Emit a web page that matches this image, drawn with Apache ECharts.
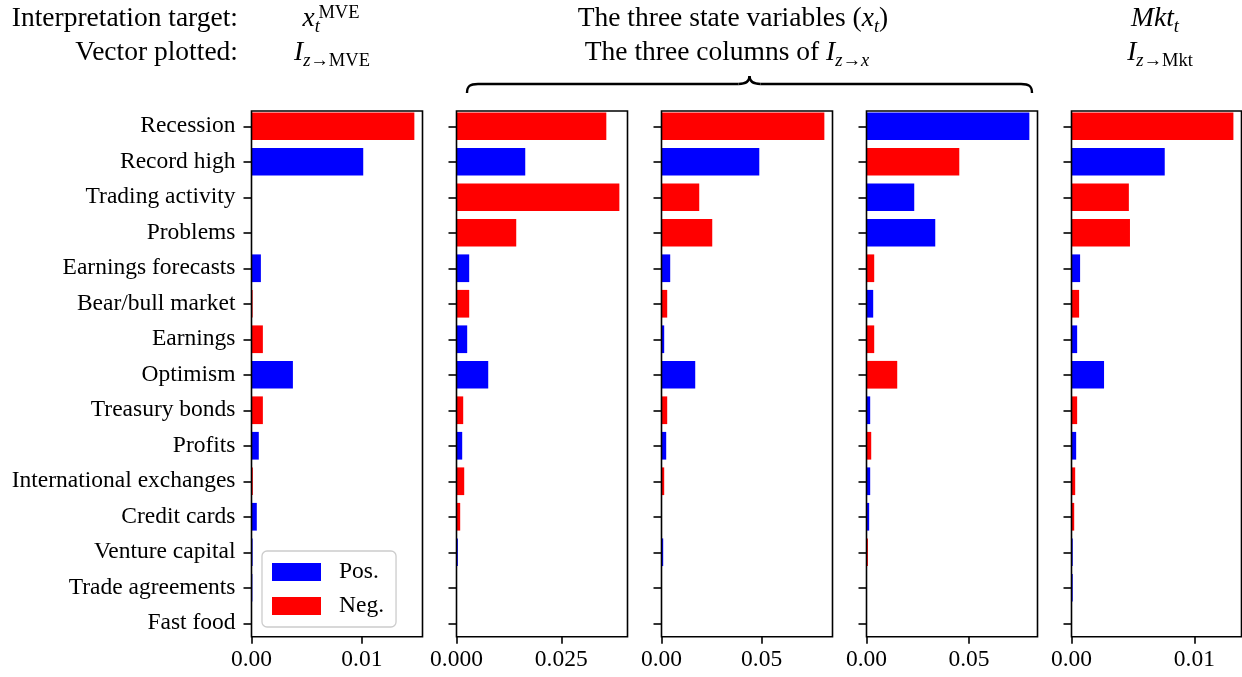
<!DOCTYPE html>
<html>
<head>
<meta charset="utf-8">
<script src="https://cdn.jsdelivr.net/npm/echarts@6/dist/echarts.min.js"></script>
<style>
  html, body { margin: 0; padding: 0; background: #fff; }
  #chart { width: 1242px; height: 677px; }
</style>
</head>
<body>
<div id="chart"></div>
<script>
// Topic categories (top to bottom)
const categories = [
  'Recession', 'Record high', 'Trading activity', 'Problems', 'Earnings forecasts',
  'Bear/bull market', 'Earnings', 'Optimism', 'Treasury bonds', 'Profits',
  'International exchanges', 'Credit cards', 'Venture capital', 'Trade agreements', 'Fast food'
];

// Signed loadings: positive drawn blue, negative drawn red (bar length = magnitude)
const vecMVE = [-0.01475, 0.01012, 0, 0, 0.00085, -0.0001, -0.00103, 0.00375, -0.00103, 0.00066, -0.00012, 0.00048, 0.0001, 0.00008, 0];
const colX1  = [-0.03574, 0.0164, -0.03885, -0.01425, 0.00303, -0.00303, 0.00255, 0.00757, -0.0016, 0.00136, -0.00184, -0.00088, 0.00033, 0, 0];
const colX2  = [-0.08135, 0.04885, -0.01885, -0.02535, 0.00435, -0.00285, 0.00135, 0.01685, -0.00285, 0.00235, -0.00135, 0, 0.00085, 0, 0];
const colX3  = [0.07944, -0.04526, 0.02329, 0.03354, -0.00376, 0.00327, -0.00376, -0.01499, 0.0018, -0.0023, 0.0018, 0.0013, -0.0007, 0, 0];
const vecMkt = [-0.01318, 0.00759, -0.00467, -0.00476, 0.0007, -0.00062, 0.00046, 0.00265, -0.00046, 0.00038, -0.0003, -0.00022, 0.0001, 0.0001, 0];

// Axis ticks per panel
const tickSteps    = [0.01, 0.025, 0.05, 0.05, 0.01];
const tickDecimals = [2, 3, 2, 2, 2];

const panels = [vecMVE, colX1, colX2, colX3, vecMkt];

const FONT = '"Liberation Serif", "Times New Roman", serif';
const POS_COLOR = '#0000ff';
const NEG_COLOR = '#ff0000';
const LW = 1.6;

// Panel layout: the category bands extend a little past the visible frame
const gridLeft = [251.5, 456.5, 661.5, 866.5, 1071.5];
const gridWidth = [171, 171, 171, 171, 170];
const bandTop = 108.5, bandHeight = 532.5;        // 15 rows of 35.5 px
const frameTop = 111, frameBottom = 636.7;
const xAxisOffset = frameBottom - (bandTop + bandHeight);

const grids = [], xAxes = [], yAxes = [], series = [];
const frames = [];

panels.forEach((vals, i) => {
  const maxAbs = Math.max(...vals.map(v => Math.abs(v)));
  grids.push({
    left: gridLeft[i], top: bandTop, width: gridWidth[i], height: bandHeight, show: false
  });
  xAxes.push({
    type: 'value', gridIndex: i, min: 0, max: maxAbs * 1.05, offset: xAxisOffset,
    splitLine: { show: false },
    axisLine: { show: false },
    axisTick: { show: true, length: 7, lineStyle: { color: '#000', width: LW },
                customValues: [0, tickSteps[i]] },
    axisLabel: { show: true, margin: 11, color: '#000', fontFamily: FONT, fontSize: 23.5,
                 customValues: [0, tickSteps[i]],
                 formatter: v => Number(v).toFixed(tickDecimals[i]) },
    z: 3
  });
  yAxes.push({
    type: 'category', gridIndex: i, data: categories, inverse: true,
    axisLine: { show: false },
    axisTick: { show: true, alignWithLabel: true, length: 8, lineStyle: { color: '#000', width: LW } },
    axisLabel: { show: i === 0, margin: 16, color: '#000', fontFamily: FONT, fontSize: 23.5,
                 padding: [3, 0, 0, 0] },
    splitLine: { show: false },
    z: 3
  });
  series.push({
    name: 'Pos.', type: 'bar', xAxisIndex: i, yAxisIndex: i,
    data: vals.map(v => (v > 0 ? v : '-')),
    itemStyle: { color: POS_COLOR }, barWidth: '78%', barGap: '-100%', z: 2
  });
  series.push({
    name: 'Neg.', type: 'bar', xAxisIndex: i, yAxisIndex: i,
    data: vals.map(v => (v < 0 ? -v : '-')),
    itemStyle: { color: NEG_COLOR }, barWidth: '78%', barGap: '-100%', z: 2
  });
  // panel frame (spines)
  frames.push({
    type: 'rect', silent: true, z: 50,
    shape: { x: gridLeft[i], y: frameTop, width: gridWidth[i], height: frameBottom - frameTop },
    style: { stroke: '#000', lineWidth: LW, fill: null }
  });
});

// Header text built from runs (regular, italic, sub/superscript)
const measureCtx = document.createElement('canvas').getContext('2d');
function fontOf(r) { return (r.italic ? 'italic ' : '') + r.size + 'px ' + FONT; }
function textRuns(runs, anchorX, align, baseline) {
  let total = 0;
  const widths = runs.map(r => {
    measureCtx.font = fontOf(r);
    const w = measureCtx.measureText(r.t).width;
    if (!r.noAdvance) total += w;
    return w;
  });
  let x = align === 'right' ? anchorX - total : align === 'center' ? anchorX - total / 2 : anchorX;
  const els = [];
  runs.forEach((r, k) => {
    const yMid = baseline + (r.dy || 0) - 0.34 * r.size;
    els.push({
      type: 'text', silent: true, x: x, y: yMid,
      style: { text: r.t, font: fontOf(r), fill: '#000',
               align: 'left', textAlign: 'left', verticalAlign: 'middle', textVerticalAlign: 'middle' }
    });
    if (!r.noAdvance) x += widths[k];
  });
  return els;
}

const B1 = 28.5, B2 = 62.5, MAIN = 27.5, SMALL = 18.5;
let graphics = [];
graphics = graphics.concat(textRuns([{ t: 'Interpretation target:', size: MAIN }], 238, 'right', B1));
graphics = graphics.concat(textRuns([{ t: 'Vector plotted:', size: MAIN }], 238, 'right', B2));
graphics = graphics.concat(textRuns([
  { t: 'x', size: MAIN, italic: true },
  { t: 't', size: SMALL, italic: true, dy: 5, noAdvance: true },
  { t: '\u2009MVE', size: SMALL, dy: -9 }
], 331, 'center', B1));
graphics = graphics.concat(textRuns([
  { t: 'I', size: MAIN, italic: true },
  { t: 'z', size: SMALL, italic: true, dy: 5 },
  { t: '\u2192MVE', size: SMALL, dy: 5 }
], 332, 'center', B2));
graphics = graphics.concat(textRuns([
  { t: 'The three state variables (', size: MAIN },
  { t: 'x', size: MAIN, italic: true },
  { t: 't', size: SMALL, italic: true, dy: 5 },
  { t: ')', size: MAIN }
], 733, 'center', B1));
graphics = graphics.concat(textRuns([
  { t: 'The three columns of ', size: MAIN },
  { t: 'I', size: MAIN, italic: true },
  { t: 'z', size: SMALL, italic: true, dy: 5 },
  { t: '\u2192', size: SMALL, dy: 5 },
  { t: 'x', size: SMALL, italic: true, dy: 5 }
], 727, 'center', B2));
graphics = graphics.concat(textRuns([
  { t: 'Mkt', size: MAIN, italic: true },
  { t: 't', size: SMALL, italic: true, dy: 5 }
], 1155, 'center', B1));
graphics = graphics.concat(textRuns([
  { t: 'I', size: MAIN, italic: true },
  { t: 'z', size: SMALL, italic: true, dy: 5 },
  { t: '\u2192Mkt', size: SMALL, dy: 5 }
], 1160, 'center', B2));

// Curly brace spanning the three state-variable panels
const bL = gridLeft[1] + 10.5, bR = gridLeft[3] + gridWidth[3] - 5.5, bM = (bL + bR) / 2;
const bY = 84, bEnd = 93, bTip = 76;
const braceStyle = { stroke: '#000', lineWidth: 2.4, fill: null };
function bez(x1, y1, cx1, cy1, cx2, cy2, x2, y2) {
  return { type: 'bezierCurve', silent: true,
           shape: { x1, y1, x2, y2, cpx1: cx1, cpy1: cy1, cpx2: cx2, cpy2: cy2 },
           style: braceStyle };
}
function seg(x1, y1, x2, y2) {
  return { type: 'line', silent: true, shape: { x1, y1, x2, y2 }, style: braceStyle };
}
graphics.push(
  bez(bL, bEnd, bL, bY + 2, bL + 3, bY, bL + 11, bY),
  seg(bL + 11, bY, bM - 11, bY),
  bez(bM - 11, bY, bM - 3, bY, bM, bY - 3, bM, bTip),
  bez(bM, bTip, bM, bY - 3, bM + 3, bY, bM + 11, bY),
  seg(bM + 11, bY, bR - 11, bY),
  bez(bR - 11, bY, bR - 3, bY, bR, bY + 2, bR, bEnd)
);
graphics = graphics.concat(frames);

const chart = echarts.init(document.getElementById('chart'), null, { renderer: 'canvas' });
chart.setOption({
  animation: false,
  backgroundColor: '#fff',
  grid: grids,
  xAxis: xAxes,
  yAxis: yAxes,
  series: series,
  legend: {
    data: ['Pos.', 'Neg.'],
    orient: 'vertical', left: 262, top: 551,
    itemWidth: 49, itemHeight: 18, itemGap: 10,
    icon: 'rect', selectedMode: false,
    padding: [9, 12, 9, 10],
    backgroundColor: 'rgba(255,255,255,0.85)',
    borderColor: '#cccccc', borderWidth: 1.3, borderRadius: 5,
    textStyle: { fontFamily: FONT, fontSize: 23.5, color: '#000', padding: [0, 0, 0, 13] },
    z: 60
  },
  graphic: { elements: graphics }
});
</script>
</body>
</html>
